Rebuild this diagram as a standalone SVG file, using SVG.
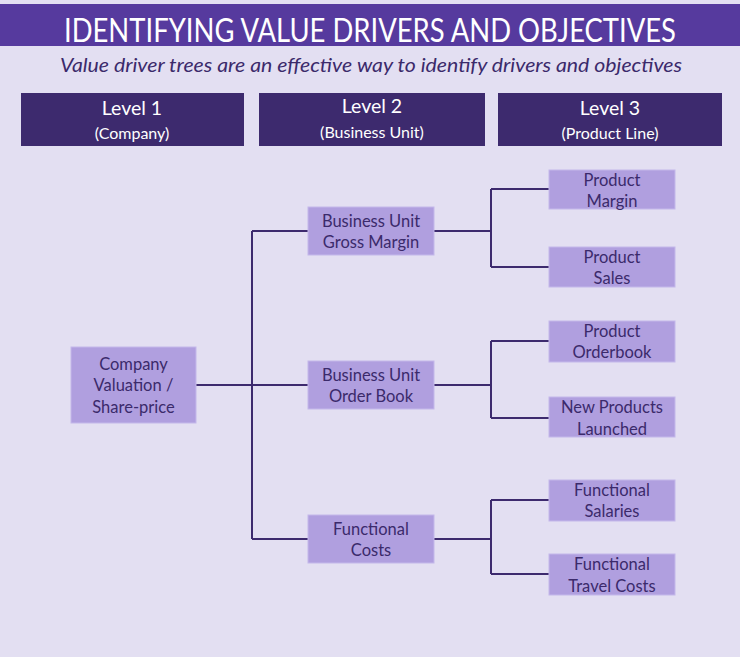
<svg xmlns="http://www.w3.org/2000/svg" width="740" height="657" viewBox="0 0 740 657">
<style>
.bg{fill:#e3dff2}
.node{fill:#b09fdf;stroke:#c4b8ea;stroke-width:1}
.hdr{fill:#3d2a6e}
.t{font-family:Lato,"Open Sans","Liberation Sans",sans-serif;font-size:16.5px;fill:#3b2a6b;text-anchor:middle}
.h1{font-family:Lato,"Open Sans","Liberation Sans",sans-serif;font-size:19.5px;fill:#ffffff;text-anchor:middle}
.h2{font-family:Lato,"Open Sans","Liberation Sans",sans-serif;font-size:16px;fill:#ffffff;text-anchor:middle}
.conn{fill:none;stroke:#3d2a6e;stroke-width:2}
</style>
<rect class="bg" x="0" y="0" width="740" height="657"/>
<g id="title">
<rect x="0" y="4" width="740" height="42" fill="#563a9e"/>
<text x="370" y="41.5" font-family="Lato,'Open Sans','Liberation Sans',sans-serif" font-size="32" fill="#ffffff" text-anchor="middle" textLength="612" lengthAdjust="spacingAndGlyphs">IDENTIFYING VALUE DRIVERS AND OBJECTIVES</text>
</g>
<g id="subtitle">
<text x="371" y="72" font-family="Lato,'Open Sans','Liberation Sans',sans-serif" font-size="20" font-style="italic" fill="#3b2a6b" text-anchor="middle" textLength="622" lengthAdjust="spacingAndGlyphs">Value driver trees are an effective way to identify drivers and objectives</text>
</g>
<g id="level1"><rect class="hdr" x="21" y="93" width="223" height="53"/><text class="h1" x="132" y="115">Level 1</text><text class="h2" x="132" y="139">(Company)</text></g>
<g id="level2"><rect class="hdr" x="259" y="93" width="226" height="53"/><text class="h1" x="372" y="113">Level 2</text><text class="h2" x="372" y="138">(Business Unit)</text></g>
<g id="level3"><rect class="hdr" x="498" y="93" width="224" height="53"/><text class="h1" x="610" y="115">Level 3</text><text class="h2" x="610" y="139">(Product Line)</text></g>

<g id="connectors">
<path class="conn" d="M190 385H308M252 231V539M252 231H308M252 539H308"/>
<path class="conn" d="M434 231H491M491 189V267M491 189H549M491 267H549"/>
<path class="conn" d="M434 385H491M491 341V418M491 341H549M491 418H549"/>
<path class="conn" d="M434 539H491M491 500V574M491 500H549M491 574H549"/>
</g>

<g id="company"><rect class="node" x="71" y="347" width="125" height="76"/><text class="t" x="133.5" y="370">Company</text><text class="t" x="133.5" y="391">Valuation /</text><text class="t" x="133.5" y="413">Share-price</text></g>
<g id="bu-gross-margin"><rect class="node" x="308" y="207" width="126" height="48"/><text class="t" x="371" y="227">Business Unit</text><text class="t" x="371" y="248">Gross Margin</text></g>
<g id="bu-order-book"><rect class="node" x="308" y="361" width="126" height="48"/><text class="t" x="371" y="381">Business Unit</text><text class="t" x="371" y="402">Order Book</text></g>
<g id="functional-costs"><rect class="node" x="308" y="515" width="126" height="48"/><text class="t" x="371" y="535">Functional</text><text class="t" x="371" y="556">Costs</text></g>

<g id="product-margin"><rect class="node" x="549" y="170" width="126" height="39"/><text class="t" x="612" y="186">Product</text><text class="t" x="612" y="207">Margin</text></g>
<g id="product-sales"><rect class="node" x="549" y="247" width="126" height="40"/><text class="t" x="612" y="263">Product</text><text class="t" x="612" y="284">Sales</text></g>
<g id="product-orderbook"><rect class="node" x="549" y="321" width="126" height="41"/><text class="t" x="612" y="337">Product</text><text class="t" x="612" y="358">Orderbook</text></g>
<g id="new-products"><rect class="node" x="549" y="397" width="126" height="40"/><text class="t" x="612" y="413">New Products</text><text class="t" x="612" y="435">Launched</text></g>
<g id="functional-salaries"><rect class="node" x="549" y="480" width="126" height="41"/><text class="t" x="612" y="496">Functional</text><text class="t" x="612" y="517">Salaries</text></g>
<g id="functional-travel"><rect class="node" x="549" y="554" width="126" height="41"/><text class="t" x="612" y="570">Functional</text><text class="t" x="612" y="592">Travel Costs</text></g>
</svg>
